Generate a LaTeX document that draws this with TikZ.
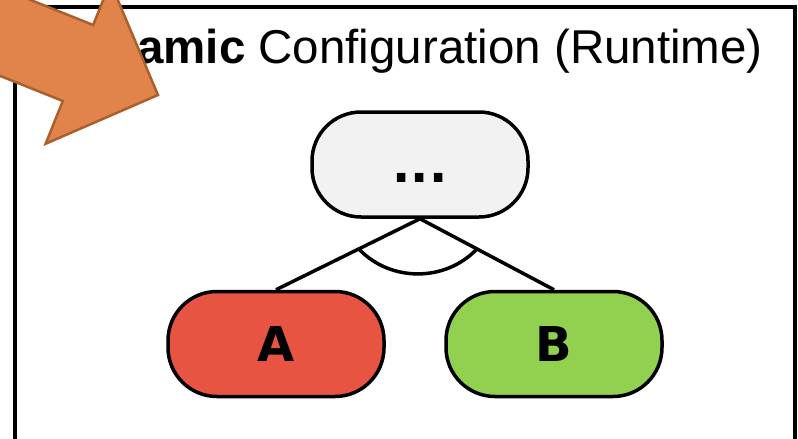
\documentclass[tikz,border=0pt]{standalone}
\usepackage{fontspec}
\setmainfont{Liberation Sans}
\newfontfamily\djv{DejaVu Sans}
\usetikzlibrary{calc}
\definecolor{pillgray}{HTML}{F2F2F2}
\definecolor{pillred}{HTML}{E85442}
\definecolor{pillgreen}{HTML}{92D050}
\definecolor{arrfill}{HTML}{E0844B}
\definecolor{arrline}{HTML}{A9602C}
\tikzset{
  pill/.style={draw=black, line width=3.5pt, rounded corners=49pt,
    minimum width=216pt, minimum height=105pt, inner sep=0pt,
    text height=35pt, text depth=0pt,
    font=\djv\bfseries\fontsize{48}{58}\selectfont},
  conn/.style={draw=black, line width=3.5pt},
  frame/.style={draw=black, line width=4pt},
  bigarrow/.style={fill=arrfill, draw=arrline, line width=2.5pt, line join=miter}
}
\begin{document}
\begin{tikzpicture}[x=1pt,y=-1pt]
\useasboundingbox (0,0) rectangle (798,439);
\clip (0,0) rectangle (798,439);
\fill[white] (0,0) rectangle (798,439);
% frame
\draw[frame] (15,7) rectangle (795,470);
% title
\node[anchor=base west, inner sep=0pt, font=\fontsize{47.5}{57}\selectfont] (title) at (137,63) {\textbf{amic} Configuration (Runtime)};
% nodes
\node[pill, fill=pillgray] (top) at (420,164.5) {...};
\node[pill, fill=pillred] (A) at (276,344) {A};
\node[pill, fill=pillgreen] (B) at (554,344) {B};
% connectors
\draw[conn] (top.south) -- (A.north);
\draw[conn] (top.south) -- (B.north);
\coordinate (arcL) at ($(top.south)!0.425!(A.north)$);
\coordinate (arcR) at ($(top.south)!0.425!(B.north)$);
\draw[conn] (arcL) .. controls ($(arcL)+(31.5,33.3)$) and ($(arcR)+(-31.5,33.3)$) .. (arcR);
% orange arrow
\draw[bigarrow] (-122.8,26.8) -- (62.8,101) -- (45.7,143.7) -- (158,95) -- (110.3,-17.7) -- (93.2,25) -- (-92.4,-49.2) -- cycle;
\end{tikzpicture}
\end{document}
